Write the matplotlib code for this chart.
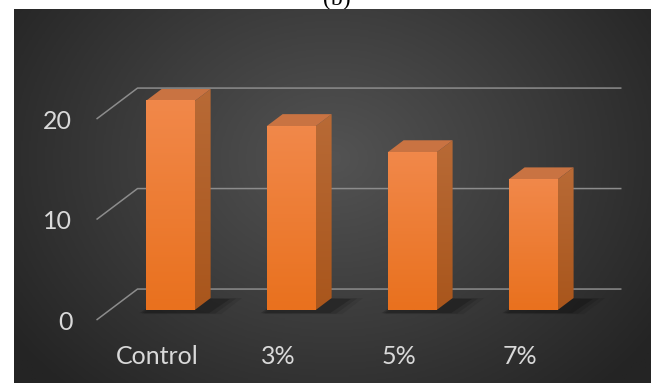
import numpy as np
import matplotlib.pyplot as plt
from matplotlib.patches import Polygon
from matplotlib.colors import LinearSegmentedColormap

categories = ['Control', '3%', '5%', '7%']
values = [20.8, 18.3, 15.7, 13.0]
y_ticks = [0, 10, 20]

# fake 3d: depth d (0 front .. 1 back wall) shifts x by DX categories and y by DV units
DX, DV = 0.339, 3.08
bar_w = 0.405
d0, d1 = 0.32, 0.71

fig = plt.figure(figsize=(6.54, 3.83), dpi=100)
fig.patch.set_facecolor('white')
# caption of the panel, mostly cut off by the chart like in the source
fig.text(337/654, 1 - 5/383, '(b)', family='Liberation Serif', fontsize=17,
         ha='center', va='baseline', color='black', zorder=-1)

ax = fig.add_axes([14/654, 0, 637/654, 374/383])

# radial background
yy, xx = np.mgrid[0:1:300j, 0:1:500j]
r = np.sqrt(((xx - 0.5) / 0.62)**2 + ((yy - 0.6) / 0.85)**2)
bg_cmap = LinearSegmentedColormap.from_list('bg', ['#535353', '#3c3c3c', '#242424'])
ax.imshow(r, cmap=bg_cmap, extent=[0, 1, 0, 1], transform=ax.transAxes,
          origin='lower', aspect='auto', vmin=0, vmax=1, zorder=0)

# gridlines on back wall + side wall
for v in y_ticks:
    ax.plot([-0.5, -0.5 + DX, 3.5 + DX], [v, v + DV, v + DV],
            color='#8c8c8c', lw=1.1, zorder=1, solid_capstyle='butt')
    ax.text(-0.70, v - 0.2, str(v), ha='right', va='center',
            family='Lato', fontsize=18, color='#d9d9d9')

front_cmap = LinearSegmentedColormap.from_list('front', ['#e9711e', '#f1884a'])
side_cmap = LinearSegmentedColormap.from_list('side', ['#a9561c', '#b86a36'])

dc = (d1 - d0) * DX
dv = (d1 - d0) * DV
for i, h in enumerate(values):
    x0 = i - bar_w / 2 + d0 * DX
    y0 = d0 * DV
    # soft shadow on the floor
    for k, a in enumerate([0.08, 0.12, 0.18]):
        s = 0.05 * (2 - k)
        ax.add_patch(Polygon([(x0 - 0.05 + s * 0.3, y0 - 0.3 - s),
                              (x0 + bar_w + 0.12 + s, y0 - 0.3 - s),
                              (x0 + bar_w + dc + 0.16 + s, y0 + dv - 0.1 + s),
                              (x0 + dc, y0 + dv)],
                             facecolor='black', edgecolor='none', alpha=a, zorder=2))
    # side face
    side = Polygon([(x0 + bar_w, y0), (x0 + bar_w, y0 + h),
                    (x0 + bar_w + dc, y0 + h + dv), (x0 + bar_w + dc, y0 + dv)],
                   facecolor='none', edgecolor='none', zorder=3)
    ax.add_patch(side)
    im = ax.imshow(np.linspace(0, 1, 100).reshape(-1, 1), cmap=side_cmap,
                   extent=[x0 + bar_w, x0 + bar_w + dc, y0, y0 + h + dv],
                   origin='lower', aspect='auto', zorder=3)
    im.set_clip_path(side)
    # top face
    ax.add_patch(Polygon([(x0, y0 + h), (x0 + bar_w, y0 + h),
                          (x0 + bar_w + dc, y0 + h + dv), (x0 + dc, y0 + h + dv)],
                         facecolor='#c97342', edgecolor='none', zorder=3))
    # front face
    ax.imshow(np.linspace(0, 1, 100).reshape(-1, 1), cmap=front_cmap,
              extent=[x0, x0 + bar_w, y0, y0 + h],
              origin='lower', aspect='auto', zorder=4)
    ax.text(i, -3.68, categories[i], ha='center', va='center',
            family='Lato', fontsize=18, color='#d9d9d9')

ax.set_xlim(-1.182, 4.083)
ax.set_ylim(-6.27, 30.95)
ax.axis('off')

fig.savefig('out.png', dpi=100)
